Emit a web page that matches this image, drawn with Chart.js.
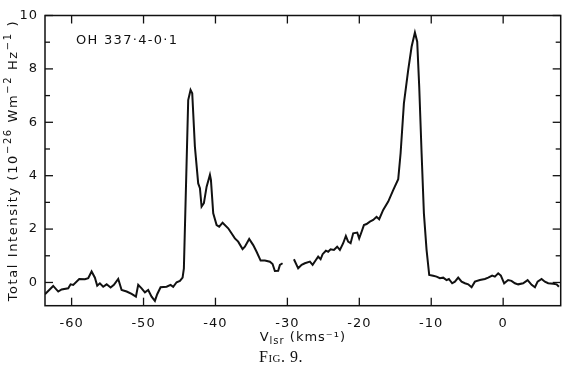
<!DOCTYPE html>
<html>
<head>
<meta charset="utf-8">
<script src="https://cdn.jsdelivr.net/npm/chart.js@4.4.1/dist/chart.umd.min.js"></script>
<style>
html,body{margin:0;padding:0;background:#fff;}
#wrap{width:570px;height:380px;}
</style>
</head>
<body>
<div id="wrap"><canvas id="c" width="570" height="380"></canvas></div>
<script>
// ---- data ----
const velocity = [
-63.71,-62.56,-61.86,-61.39,-60.47,-60.14,-59.78,-58.94,-58.15,-57.69,-57.22,-56.76,-56.44,-56.07,-55.61,-55.13,-54.58,-54.12,-53.52,-53.05,-52.35,-51.66,-51.06,-50.74,-50.27,-49.81,-49.35,-48.88,-48.42,-48.10,-47.63,-46.79,-46.24,-45.88,-45.40,-44.94,-44.57,-44.39,
-43.79,-43.46,-43.23,-42.86,-42.40,-42.16,-41.93,-41.61,-41.23,-40.77,-40.63,-40.31,-39.84,-39.48,-39.01,-38.23,-37.30,-36.84,-36.23,-35.91,-35.31,-34.75,-34.28,-33.72,-33.13,-32.43,-32.06,-31.74,-31.28,-31.04,-30.67,
-29.90,
-29.09,-28.50,-28.02,-27.57,-26.87,-26.49,-26.04,-25.72,-25.38,-25.10,-24.65,-24.33,-23.99,-23.53,-23.08,-22.70,-22.24,-21.87,-21.55,-21.21,-20.85,-20.29,-20.02,-19.68,-19.36,-18.99,-18.53,-18.07,-17.60,-17.24,-16.68,-15.98,-15.29,-14.59,-14.26,-13.80,-13.20,-12.73,-12.27,-11.95,-11.67,-11.34,-11.02,-10.65,-10.28,
-9.73,-9.26,-8.80,-8.34,-7.87,-7.55,-7.09,-6.71,-6.25,-5.78,-5.32,-4.86,-4.39,-3.93,-3.24,-2.54,-2.08,-1.53,-1.15,-0.69,-0.32,0.14,0.69,1.16,1.63,2.09,2.78,3.40,3.96,4.42,4.79,5.34,5.80,6.26,6.96,7.43,7.75
];
const intensity = [
-0.44,-0.13,-0.34,-0.26,-0.22,-0.07,-0.09,0.13,0.12,0.16,0.41,0.18,-0.12,-0.03,-0.16,-0.07,-0.19,-0.09,0.13,-0.28,-0.34,-0.43,-0.53,-0.09,-0.22,-0.37,-0.28,-0.53,-0.69,-0.44,-0.18,-0.16,-0.09,-0.16,0.01,0.06,0.18,0.53,
6.83,7.21,7.09,5.09,3.71,3.53,2.84,2.97,3.59,4.03,3.84,2.59,2.15,2.09,2.24,2.03,1.65,1.53,1.25,1.34,1.63,1.40,1.15,0.82,0.82,0.78,0.69,0.43,0.44,0.66,0.72,
null,
0.87,0.53,0.66,0.72,0.78,0.66,0.84,0.97,0.87,1.06,1.19,1.15,1.24,1.22,1.34,1.22,1.47,1.74,1.53,1.47,1.84,1.87,1.65,1.90,2.15,2.19,2.28,2.34,2.46,2.37,2.72,3.03,3.46,3.87,4.84,6.71,7.96,8.83,9.36,9.02,7.33,4.84,2.59,1.22,0.28,
0.25,0.22,0.16,0.18,0.09,0.13,-0.03,0.03,0.18,0.03,-0.03,-0.07,-0.18,0.03,0.09,0.13,0.18,0.26,0.22,0.34,0.26,-0.03,0.09,0.06,-0.03,-0.07,-0.03,0.09,-0.09,-0.18,0.03,0.13,0.03,-0.03,-0.05,-0.07,-0.16
];
const xTickValues = [-60,-50,-40,-30,-20,-10,0];
const yTickValues = [0,2,4,6,8,10];
const yMinorValues = [1,3,5,7,9];
const sourceLabel = 'OH 337·4-0·1';
// y title pieces: [text, isSuperscript]
const yTitleParts = [['Total Intensity (10', 0], ['−26', 1], [' Wm', 0], ['−2', 1], [' Hz', 0], ['−1', 1], [' )', 0]];
// x title pieces: [text, isSubscript]
const xTitleParts = [['V', 0], ['lsr', 1], [' (kms⁻¹)', 0]];
const captionText = 'Fig. 9.';

const INK = '#111';
const SANS = '"DejaVu Sans"';

const points = velocity.map((v, i) => ({x: v, y: intensity[i]}));

function drawPieces(ctx, parts, cx, baseline, shift, spacing) {
  const big = '13px ' + SANS, small = '10px ' + SANS;
  ctx.letterSpacing = spacing;
  let w = 0;
  parts.forEach(p => { ctx.font = p[1] ? small : big; w += ctx.measureText(p[0]).width; });
  let x = cx - w / 2;
  parts.forEach(p => {
    ctx.font = p[1] ? small : big;
    ctx.fillText(p[0], x, baseline + (p[1] ? shift : 0));
    x += ctx.measureText(p[0]).width;
  });
}

const decor = {
  id: 'decor',
  beforeDraw(chart) {
    chart.ctx.letterSpacing = '1px';
  },
  afterDraw(chart) {
    const {ctx, chartArea: a, scales: {x, y}} = chart;
    ctx.save();
    ctx.strokeStyle = INK;
    ctx.lineWidth = 1.5;
    ctx.strokeRect(a.left, a.top, a.right - a.left, a.bottom - a.top);
    const seg = (x1, y1, x2, y2) => { ctx.beginPath(); ctx.moveTo(x1, y1); ctx.lineTo(x2, y2); ctx.stroke(); };
    ctx.lineWidth = 1.3;
    xTickValues.forEach(v => {
      const p = x.getPixelForValue(v);
      seg(p, a.bottom, p, a.bottom - 8);
      seg(p, a.top, p, a.top + 8);
    });
    yTickValues.forEach(v => {
      const p = y.getPixelForValue(v);
      seg(a.left, p, a.left + 8, p);
      seg(a.right, p, a.right - 8, p);
    });
    yMinorValues.forEach(v => {
      const p = y.getPixelForValue(v);
      seg(a.left, p, a.left + 5, p);
      seg(a.right, p, a.right - 5, p);
    });
    ctx.fillStyle = INK;
    ctx.textAlign = 'left';
    // source label
    ctx.letterSpacing = '1.3px';
    ctx.font = '13px ' + SANS;
    ctx.textBaseline = 'middle';
    ctx.fillText(sourceLabel, a.left + 31, a.top + 25);
    ctx.textBaseline = 'alphabetic';
    // x title with subscript
    drawPieces(ctx, xTitleParts, (a.left + a.right) / 2, a.bottom + 35, 3, '1px');
    // y title with superscripts (rotated)
    ctx.save();
    ctx.translate(17, (a.top + a.bottom) / 2);
    ctx.rotate(-Math.PI / 2);
    drawPieces(ctx, yTitleParts, 0, 0, -6, '1.6px');
    ctx.restore();
    // caption
    ctx.letterSpacing = '0.5px';
    ctx.font = 'small-caps 16px "Liberation Serif"';
    ctx.textAlign = 'center';
    ctx.fillText(captionText, 281, 362);
    ctx.letterSpacing = '0px';
    ctx.restore();
    ctx.letterSpacing = '0px';
  }
};

new Chart(document.getElementById('c'), {
  type: 'line',
  data: {
    datasets: [{
      data: points,
      borderColor: INK,
      borderWidth: 2,
      pointRadius: 0,
      tension: 0,
      spanGaps: false,
      fill: false
    }]
  },
  options: {
    responsive: false,
    animation: false,
    devicePixelRatio: 1,
    layout: {padding: {top: 15.5, right: 9.3, left: 0, bottom: 0}},
    plugins: {legend: {display: false}, tooltip: {enabled: false}},
    scales: {
      x: {
        type: 'linear',
        min: -63.7,
        max: 8,
        afterFit(s) { s.height = 74.3; },
        afterBuildTicks(s) { s.ticks = xTickValues.map(v => ({value: v})); },
        grid: {display: false, drawTicks: false},
        border: {display: false},
        ticks: {padding: 10, color: INK, font: {family: SANS, size: 13}, maxRotation: 0, autoSkip: false}
      },
      y: {
        type: 'linear',
        min: -0.87,
        max: 10,
        afterFit(s) { s.width = 45; },
        afterBuildTicks(s) { s.ticks = yTickValues.map(v => ({value: v})); },
        grid: {display: false, drawTicks: false},
        border: {display: false},
        ticks: {padding: 7, color: INK, font: {family: SANS, size: 13}},
        title: {display: false}
      }
    }
  },
  plugins: [decor]
});
</script>
</body>
</html>
